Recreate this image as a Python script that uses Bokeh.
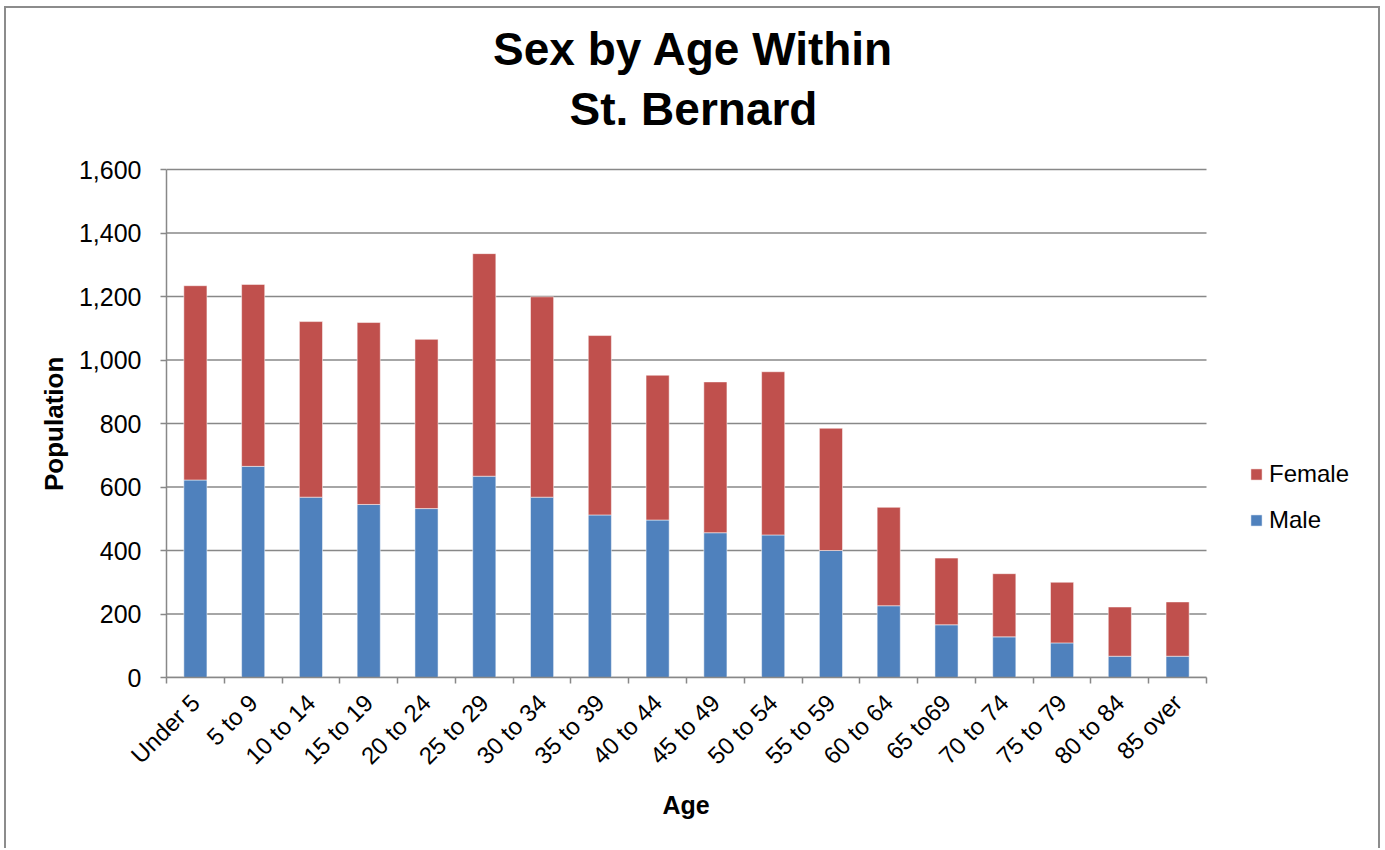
import numpy as np
from bokeh.plotting import figure
from bokeh.models import (ColumnDataSource, Range1d, FixedTicker, NumeralTickFormatter,
                          Legend, LegendItem, Label)
from bokeh.embed import file_html
from bokeh.resources import INLINE

ages = ["Under 5", "5 to 9", "10 to 14", "15 to 19", "20 to 24", "25 to 29", "30 to 34",
        "35 to 39", "40 to 44", "45 to 49", "50 to 54", "55 to 59", "60 to 64", "65 to69",
        "70 to 74", "75 to 79", "80 to 84", "85 over"]
male = [622, 665, 568, 545, 532, 634, 568, 512, 496, 456, 449, 400, 226, 166, 128, 109, 67, 67]
female = [612, 573, 553, 573, 533, 701, 631, 565, 456, 475, 514, 385, 310, 210, 199, 191, 155, 171]
y_ticks = [0, 200, 400, 600, 800, 1000, 1200, 1400, 1600]
title_lines = ["Sex by Age Within", "St. Bernard"]
x_title = "Age"
y_title = "Population"

FONT = "Liberation Sans"
BLUE = "#4F81BD"
RED = "#C0504D"
GREY = "#888888"
NBSP = "\u00a0"

N = len(ages)
YMAX = 1600
x = [i + 0.5 for i in range(N)]
src = ColumnDataSource(dict(x=x, male=male, female=female))

# layout (pixels)
W, H = 1376, 842
LEFT, RIGHT, TOP, BOTTOM = 160, 10, 10, 173
PLOT_W, PLOT_H = 1040, 508          # size of the visible plotting region
frame_w = W - LEFT - RIGHT
frame_h = H - TOP - BOTTOM
px_x = PLOT_W / N
px_y = PLOT_H / YMAX


def dx(px):   # pixel column (inside figure) -> data x
    return (px - LEFT) / px_x


def dy(py):   # pixel row (inside figure) -> data y
    return (TOP + frame_h - py) / px_y


p = figure(width=W, height=H, x_range=Range1d(0, frame_w / px_x),
           y_range=Range1d(0, frame_h / px_y),
           output_backend="svg", toolbar_location=None, title=None,
           min_border_left=LEFT, min_border_right=RIGHT, min_border_top=TOP,
           min_border_bottom=BOTTOM)
p.styles = {"border-top": "2px solid #8c8c8c", "border-left": "2px solid #8c8c8c",
            "border-right": "2px solid #8c8c8c", "margin-left": "4px", "margin-top": "6px"}

# horizontal grid lines across the plotting region only
p.segment(x0=0, x1=N, y0=y_ticks, y1=y_ticks, line_color=GREY, line_width=1.5)

rs = p.vbar_stack(["male", "female"], x="x", width=0.4, color=[BLUE, RED], source=src,
                  line_color="white", line_width=0.5)

# title (two centred lines)
for line, base_px in zip(title_lines, [40, 100]):
    p.add_layout(Label(x=dx(687), y=dy(base_px), text=line, text_align="center",
                       text_baseline="alphabetic", text_font=FONT, text_font_size="46px",
                       text_font_style="bold", text_color="black"))

# y axis
ya = p.yaxis[0]
ya.bounds = (0, YMAX)
ya.ticker = FixedTicker(ticks=y_ticks)
ya.formatter = NumeralTickFormatter(format="0,0")
ya.axis_line_color = GREY
ya.axis_line_width = 1.5
ya.major_tick_line_color = GREY
ya.major_tick_line_width = 1.5
ya.major_tick_out = 6
ya.major_tick_in = 0
ya.minor_tick_line_color = None
ya.major_label_text_font = FONT
ya.major_label_text_font_size = "25px"
ya.major_label_text_color = "black"
ya.major_label_standoff = 19
# axis titles are centred on the frame; pad them so they sit over the plotting region
y_pad = round(2 * ((TOP + frame_h / 2) - (TOP + frame_h - PLOT_H / 2)) / (0.278 * 26))
ya.axis_label = y_title + NBSP * abs(y_pad)
ya.axis_label_text_font = FONT
ya.axis_label_text_font_size = "26px"
ya.axis_label_text_font_style = "bold"
ya.axis_label_text_color = "black"
ya.axis_label_standoff = 7

# x axis
xa = p.xaxis[0]
xa.bounds = (0, N)
xa.ticker = FixedTicker(ticks=x, minor_ticks=list(range(N + 1)))
xa.major_label_overrides = {xi: a for xi, a in zip(x, ages)}
xa.major_label_orientation = np.pi / 4
xa.axis_line_color = GREY
xa.axis_line_width = 1.5
xa.major_tick_line_color = None
xa.minor_tick_line_color = GREY
xa.minor_tick_line_width = 1.5
xa.minor_tick_out = 6
xa.minor_tick_in = 0
xa.major_label_text_font = FONT
xa.major_label_text_font_size = "24px"
xa.major_label_text_color = "black"
xa.major_label_standoff = 15
x_pad = round(2 * ((frame_w / 2) - (PLOT_W / 2)) / (0.278 * 25))
xa.axis_label = x_title + NBSP * x_pad
xa.axis_label_text_font = FONT
xa.axis_label_text_font_size = "25px"
xa.axis_label_text_font_style = "bold"
xa.axis_label_text_color = "black"
xa.axis_label_standoff = 9

p.xgrid.grid_line_color = None
p.ygrid.grid_line_color = None
p.outline_line_color = None

legend = Legend(items=[LegendItem(label="Female", renderers=[rs[1]]),
                       LegendItem(label="Male", renderers=[rs[0]])],
                location=(1083, 143), padding=0, margin=0, spacing=18,
                glyph_width=14, glyph_height=14, label_standoff=6,
                label_text_font=FONT, label_text_font_size="24px", label_text_color="black",
                border_line_color=None, background_fill_alpha=0)
p.add_layout(legend, "center")

open("out.html", "w").write(file_html(p, INLINE))
